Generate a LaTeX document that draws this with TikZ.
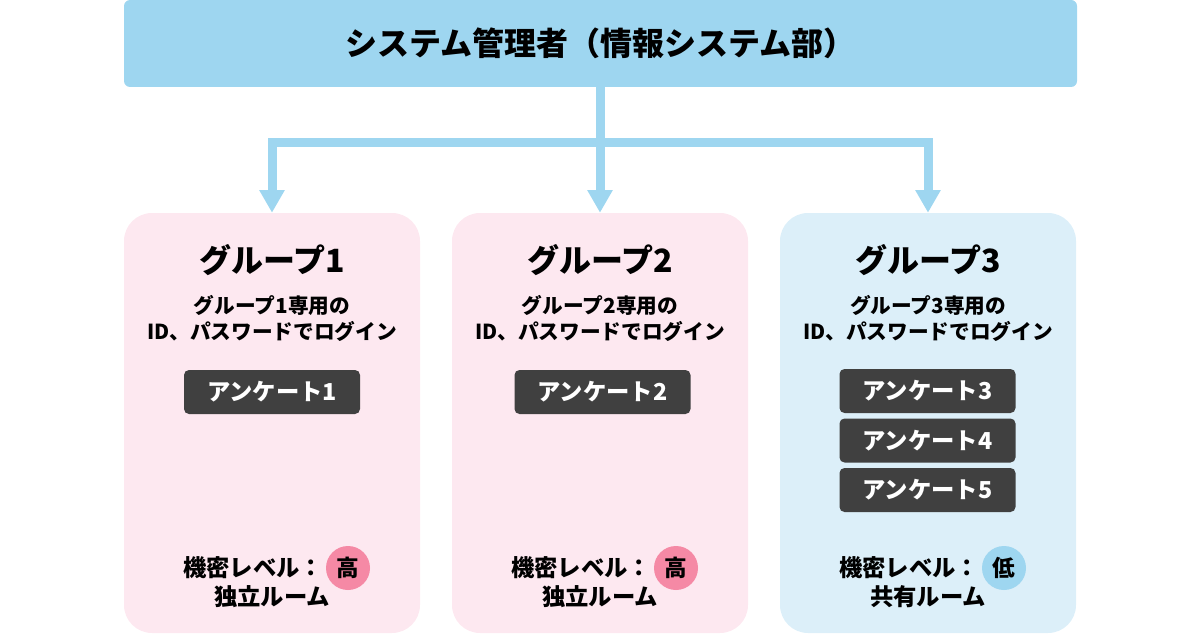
\documentclass[tikz,border=0pt]{standalone}
\usepackage{fontspec}
\setmainfont{Noto Sans CJK JP}
\usetikzlibrary{arrows.meta}

\begin{document}
\begin{tikzpicture}[x=0.75pt,y=-0.75pt,font=\bfseries]
        %colores
        \definecolor{cielo}{RGB}{158,214,240}
        \definecolor{rosa}{RGB}{253,232,240}
        \definecolor{celeste}{RGB}{220,239,249}
        \definecolor{rosaf}{RGB}{245,137,165}
        \definecolor{gris}{RGB}{64,64,64}
        \tikzset{
            grupo/.style={rounded corners=21pt,minimum width=222pt,minimum height=315pt},
            encuesta/.style={fill=gris,text=white,rounded corners=3.75pt,minimum width=132pt,minimum height=33pt,font=\bfseries\fontsize{17.5}{20}\selectfont},
            insignia/.style={circle,inner sep=0pt,minimum size=33pt,font=\bfseries\fontsize{17}{20}\selectfont},
            flecha/.style={cielo,line width=6.75pt,-{Triangle[width=18pt,length=17pt]}}
        }
        \useasboundingbox (0,0) rectangle (1200,635);

        % Caja superior
        \node[fill=cielo,rounded corners=4.5pt,minimum width=714.75pt,minimum height=65.25pt,
            font=\bfseries\fontsize{24}{28}\selectfont] (admin) at (600.5,43.5) {システム管理者（情報システム部）};

        % Grupos, titulo, acceso y nivel
        \foreach \g/\x/\col/\nivel/\tinta/\sala in {1/272/rosa/高/rosaf/独立ルーム, 2/600/rosa/高/rosaf/独立ルーム, 3/928/celeste/低/cielo/共有ルーム}
        {
            \node[grupo,fill=\col] (g\g) at (\x,423) {};
            \node[font=\bfseries\fontsize{24}{28}\selectfont] (t\g) at (\x,260) {グループ\g};
            \node[align=center,font=\bfseries\fontsize{15.5}{19.5}\selectfont] (s\g) at (\x,318) {グループ\g{}専用の\\ID、パスワードでログイン};
            \node[anchor=east,font=\bfseries\fontsize{17.5}{20}\selectfont] (n\g) at (\x+56,568) {機密レベル：};
            \node[insignia,fill=\tinta] (b\g) at (\x+76,568) {\nivel};
            \node[font=\bfseries\fontsize{17.5}{20}\selectfont] (r\g) at (\x,597) {\sala};
        }

        % Encuestas
        \foreach \n/\x/\y in {1/272/392, 2/602.5/392, 3/927.5/391, 4/927.5/440.5, 5/927.5/490}
            \node[encuesta] (e\n) at (\x,\y) {アンケート\n};

        % Flechas
        \coordinate (bus) at (600.5,142);
        \foreach \g in {1,2,3}
            \draw[flecha] (admin.south) -- (bus) -| (g\g.north);
    \end{tikzpicture}
\end{document}
